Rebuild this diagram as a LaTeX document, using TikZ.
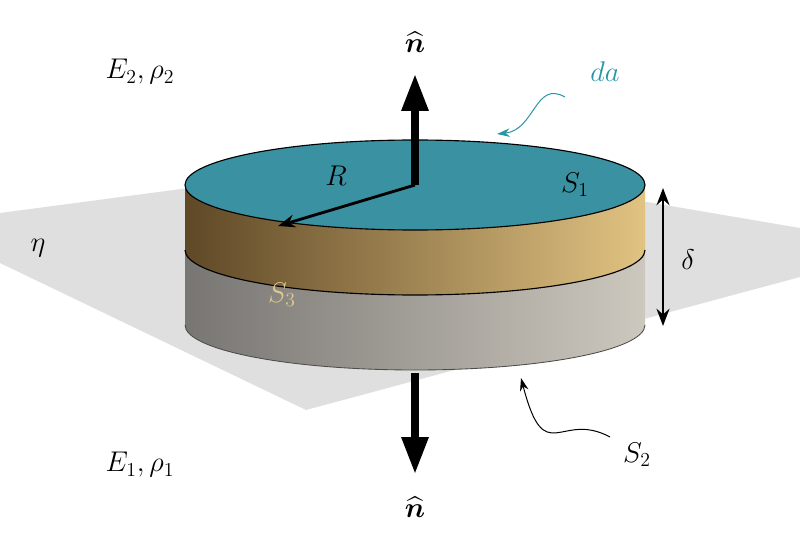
\documentclass[tikz,border=0pt]{standalone}
\usepackage{amsmath}
\usetikzlibrary{arrows.meta}
\definecolor{topteal}{RGB}{58,145,162}
\definecolor{datext}{RGB}{40,150,165}
\definecolor{golddark}{RGB}{95,72,38}
\definecolor{goldlight}{RGB}{225,195,130}
\definecolor{graydark}{RGB}{120,118,115}
\definecolor{graylight}{RGB}{205,200,190}
\definecolor{sthree}{RGB}{222,200,140}
\tikzset{
	lbl/.style={inner sep=0pt, font=\LARGE, transform shape, scale=1.65},
	bigarrow/.style={line width=2.6mm, -{Triangle[length=13mm, width=9mm]}},
	thinarrow/.style={line width=0.35mm, -{Stealth[length=4.5mm, width=3mm]}},
}
\begin{document}
\begin{tikzpicture}[x=1pt, y=-1pt]
	\useasboundingbox (0,0) rectangle (800,537);
	% plane
	\fill[gray!25] (0,213) -- (400,160) -- (800,228) -- (800,277) -- (306,410) -- (0,263) -- cycle;
	% lower band
	\shade[left color=graydark, right color=graylight] (185,250) -- (185,325) arc[start angle=180, end angle=0, x radius=230, y radius=45] -- (645,250) arc[start angle=0, end angle=180, x radius=230, y radius=45] -- cycle;
	% upper band
	\shade[left color=golddark, right color=goldlight] (185,185) -- (185,250) arc[start angle=180, end angle=0, x radius=230, y radius=45] -- (645,185) arc[start angle=0, end angle=180, x radius=230, y radius=45] -- cycle;
	\draw[line width=0.4mm] (185,250) arc[start angle=180, end angle=0, x radius=230, y radius=45];
	\draw[line width=0.3mm, black!70] (185,325) arc[start angle=180, end angle=0, x radius=230, y radius=45];
	% top face
	\draw[fill=topteal, line width=0.4mm] (415,185) ellipse[x radius=230, y radius=45];
	\coordinate (c) at (415,185);
	\coordinate (rim) at (278,226);
	\draw[line width=1mm, -{Stealth[length=6mm, width=4.5mm]}] (c) -- (rim);
	% normals
	\coordinate (upend) at (415,74);
	\coordinate (dnstart) at (415,373);
	\coordinate (dnend) at (415,474);
	\draw[bigarrow] (c) -- (upend);
	\draw[bigarrow] (dnstart) -- (dnend);
	\node[lbl] (nup) at (415,42) {$\boldsymbol{\widehat{n}}$};
	\node[lbl] (ndn) at (415,507) {$\boldsymbol{\widehat{n}}$};
	% labels
	\node[lbl] (E2) at (140,72) {$E_2,\rho_2$};
	\node[lbl] (E1) at (140,465) {$E_1,\rho_1$};
	\node[lbl] (eta) at (38,248) {$\eta$};
	\node[lbl] (R) at (336,176) {$R$};
	\node[lbl] (S1) at (575,185) {$S_1$};
	\node[lbl, text=sthree] (S3) at (282,295) {$S_3$};
	\node[lbl] (S2) at (637,455) {$S_2$};
	\node[lbl, text=datext] (da) at (605,72) {$da$};
	\node[lbl] (delta) at (688,260) {$\delta$};
	% thickness
	\coordinate (dtop) at (663,188);
	\coordinate (dbot) at (663,326);
	\draw[line width=1mm, {Stealth[length=6mm, width=4.5mm]}-{Stealth[length=6mm, width=4.5mm]}] (dtop) -- (dbot);
	% pointers
	\coordinate (datip) at (497,134);
	\coordinate (s2tip) at (521,378);
	\draw[thinarrow, datext] (565,97) .. controls (535,80) and (535,130) .. (datip);
	\draw[thinarrow] (610,437) .. controls (560,410) and (545,470) .. (s2tip);
\end{tikzpicture}
\end{document}
